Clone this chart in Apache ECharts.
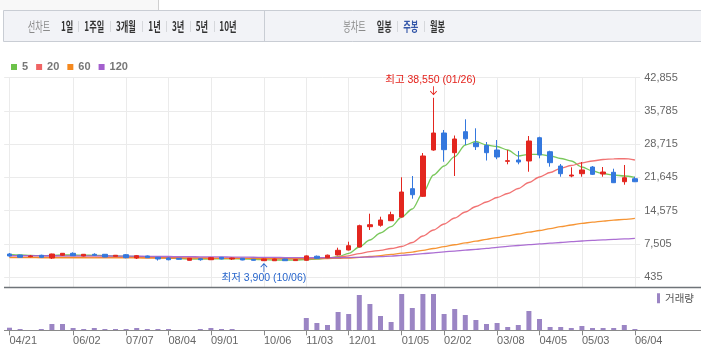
<!DOCTYPE html>
<html><head><meta charset="utf-8">
<script src="https://cdn.jsdelivr.net/npm/echarts@6/dist/echarts.min.js"></script>
<style>html,body{margin:0;padding:0;background:#fff}#c{width:701px;height:364px}</style>
</head><body><div id="c"></div>
<script>
// ---------- data ----------
const categories = ['04/21','04/28','05/05','05/12','05/19','05/26','06/02','06/09','06/16','06/23',
 '06/30','07/07','07/14','07/21','07/28','08/04','08/11','08/18','08/25','09/01',
 '09/08','09/15','09/22','09/29','10/06','10/13','10/20','10/27','11/03','11/10',
 '11/17','11/24','12/01','12/08','12/15','12/22','12/29','01/05','01/12','01/19',
 '01/26','02/02','02/09','02/16','02/23','03/02','03/08','03/15','03/22','03/29',
 '04/05','04/12','04/19','04/26','05/03','05/10','05/17','05/24','05/31','06/04'];
const tickLabels = ['04/21','06/02','07/07','08/04','09/01','10/06','11/03','12/01','01/05','02/02','03/08','04/05','05/03','06/04'];
const openP  = [5380,5170,4810,5110,4530,5110,5530,4960,5320,5320, 4890,5230,4530,4960,4680,4530,4470,4040,4380,4170,
 4680,4320,4470,4260,3960,3950,4320,3980,4050,4910, 4580,5170,6230,6870,11180,11480,12450,13240,19250,17630,
 27460,31070,26890,31350,28950,28420,27460,25060,25340,25130, 30070,27100,24060,21940,22430,23850,22370,22730,20730,21370];
const closeP = [4960,4680,4960,4680,5380,5530,5020,5320,5110,4750, 5110,4600,5020,4600,4320,4170,4260,4470,4170,4600,
 4320,4530,4110,4040,4320,4320,3960,4200,4980,4470, 5130,6170,7140,11390,11600,12600,13730,18540,17970,26190,
 31070,27530,29800,29840,28160,26890,25980,25190,24910,29370, 26400,24770,22430,22150,23220,22300,22790,20520,21580,20730];
const lowP   = [4810,4640,4680,4530,4320,4960,4960,4890,4960,4700, 4850,4470,4320,4550,3990,4040,4200,4000,3960,4100,
 4250,4110,4050,3980,3900,3930,3920,3940,3950,4400, 4500,5060,6150,6800,10480,11180,12400,13100,17120,17500,
 27310,24980,21940,28520,27460,25230,25510,24430,24430,22850, 25700,23920,21790,21670,21790,22150,21790,20450,20090,20650];
const highP  = [5590,5230,5170,5230,5450,5590,5740,5380,5530,5380, 5170,5380,5170,5050,4750,4680,4530,4530,4470,4750,
 4750,4600,4530,4320,4400,4400,4400,4250,5080,5050, 5250,6720,7990,11600,13940,13300,14360,21670,21940,26820,
 38550,31710,30540,33980,32070,29160,29580,27460,27250,30430, 30280,27310,24490,23790,24910,24060,23850,23490,24280,21790];
const volume = [260000,130000,20000,130000,630000,630000,230000,130000,230000,130000,
 130000,130000,230000,130000,130000,130000,30000,30000,130000,230000,
 130000,130000,20000,20000,20000,20000,20000,20000,1230000,730000,
 530000,1830000,1630000,3530000,2630000,1430000,830000,3630000,2230000,3630000,
 3630000,1630000,2130000,1530000,1030000,630000,730000,330000,530000,1930000,
 1130000,330000,330000,230000,430000,230000,230000,230000,530000,130000];
const ma5 = [5280,5170,5060,5020,5060,5170,5170,5130,5110,5040, 4960,4910,4850,4750,4640,4530,4430,4320,4280,4320,
 4360,4360,4320,4260,4170,4110,4110,4110,4210,4320, 4530,4810,5530,6870,8350,9840,11180,13240,14940,18330,
 22150,24060,26040,28520,29270,28520,28200,27460,26190,26550, 26550,26190,25660,25130,23850,23000,22470,22150,21940,21670];
const ma20 = [4700,4710,4710,4700,4700,4710,4720,4710,4700,4690, 4680,4670,4660,4640,4620,4600,4580,4560,4540,4520,
 4500,4490,4470,4450,4430,4410,4400,4390,4400,4440, 4530,4700,5000,5450,5900,6150,6550,6970,7820,9200,
 10480,11750,13020,14300,15470,16420,17380,18230,19290,20560, 21730,22680,23580,24170,24700,25130,25440,25590,25610,25340];
const ma60 = [4600,4600,4600,4590,4590,4590,4580,4580,4570,4570, 4560,4550,4540,4530,4520,4510,4500,4490,4480,4470,
 4460,4450,4440,4430,4420,4410,4400,4400,4400,4410, 4420,4450,4520,4650,4850,5050,5300,5550,5800,6150,
 6550,6950,7350,7750,8100,8500,8850,9250,9630,10010, 10370,10770,11180,11540,11900,12130,12350,12560,12750,12960];
const ma120 = [5050,5040,5030,5020,5010,5000,4990,4980,4970,4960, 4950,4930,4910,4890,4870,4850,4830,4810,4790,4770,
 4750,4730,4710,4690,4670,4650,4630,4610,4590,4580, 4580,4590,4620,4670,4740,4830,4940,5080,5250,5440,
 5640,5830,6010,6190,6370,6580,6800,7000,7190,7360, 7510,7670,7820,7990,8140,8270,8400,8500,8610,8720];
const yTicks = [435, 7505, 14575, 21645, 28715, 35785, 42855];
const maNames = ['5', '20', '60', '120'];
const volumeName = '거래량';
const highPoint = { date: '01/26', value: 38550, text: '최고' };
const lowPoint = { date: '10/06', value: 3900, text: '최저' };
const lineButtons = ['1일', '1주일', '3개월', '1년', '3년', '5년', '10년'];
const candleButtons = ['일봉', '주봉', '월봉'];

// ---------- layout / style ----------
const fmt = v => v.toLocaleString('en-US');
const isTick = (idx, val) => tickLabels.indexOf(val) >= 0;
const candleData = categories.map((c, i) => [openP[i], closeP[i], lowP[i], highP[i]]);
const maColors = ['#6cc24a', '#f06464', '#f5891f', '#a35fce'];
const maSeries = [ma5, ma20, ma60, ma120];
const downArrow = 'path://M4.5 0H5.5V8.3L8.6 5.2L9.3 5.9L5 10.2L0.7 5.9L1.4 5.2L4.5 8.3Z';
const upArrow = 'path://M4.5 10.2H5.5V1.9L8.6 5L9.3 4.3L5 0L0.7 4.3L1.4 5L4.5 1.9Z';

const gLeft = 4.2, gRight = 60.8;
const CJK = '"Noto Sans CJK KR"';

const graphic = [
  { type: 'rect', shape: { x: 0, y: 0, width: 158, height: 10 }, style: { fill: '#f8f8f8' } },
  { type: 'line', shape: { x1: 158.5, y1: 0, x2: 158.5, y2: 10 }, style: { stroke: '#d0d0d0' } },
  { type: 'rect', shape: { x: 3.5, y: 10.5, width: 700, height: 31 }, style: { fill: '#f2f3f7', stroke: '#c9cdd4', lineWidth: 1 } },
  { type: 'line', shape: { x1: 264.5, y1: 11, x2: 264.5, y2: 41 }, style: { stroke: '#c9cdd4' } },
  { type: 'line', shape: { x1: 4, y1: 287.5, x2: 701, y2: 287.5 }, style: { stroke: '#6f7479', lineWidth: 1.5 }, z: 100 },
  { type: 'line', shape: { x1: 4, y1: 330.5, x2: 701, y2: 330.5 }, style: { stroke: '#8a8a8a', lineWidth: 1 }, z: 100 }
];
function addText(txt, x, color, weight) {
  graphic.push({ type: 'text', x: x, y: 26.5, scaleX: 0.63,
    style: { text: txt, fill: color, font: weight + ' 13px ' + CJK, align: 'left', verticalAlign: 'middle' } });
}
function addSep(x) {
  graphic.push({ type: 'line', shape: { x1: x, y1: 21, x2: x, y2: 32 }, style: { stroke: '#d6d8dc' } });
}
addText('선차트', 27.7, '#8a8a8a', 'normal');
const lbX = [61, 84.3, 116, 148.3, 172, 195.7, 219.3];
const lbSep = [78.5, 110.5, 142.5, 166.5, 190.5, 214.5];
lineButtons.forEach((t, i) => addText(t, lbX[i], '#333', 'bold'));
lbSep.forEach(addSep);
addText('봉차트', 343.3, '#8a8a8a', 'normal');
const cbX = [376.7, 403.3, 430];
candleButtons.forEach((t, i) => addText(t, cbX[i], i === 1 ? '#3356a8' : '#333', 'bold'));
[397.5, 424.5].forEach(addSep);

const option = {
  animation: false,
  textStyle: { fontFamily: 'Liberation Sans, ' + CJK + ', sans-serif' },
  graphic: graphic,
  legend: [
    { data: maNames, left: 11, top: 61.5, padding: 0, icon: 'rect', itemWidth: 6, itemHeight: 6, itemGap: 8,
      selectedMode: false, textStyle: { color: '#777', fontSize: 11, fontWeight: 'bold', fontFamily: 'Liberation Sans' } },
    { data: [volumeName], left: 657, top: 293, padding: 0, icon: 'rect', itemWidth: 3, itemHeight: 10,
      selectedMode: false, textStyle: { color: '#555', fontSize: 10.5, fontFamily: CJK } }
  ],
  grid: [
    { left: gLeft, right: gRight, top: 77.5, height: 209.9 },
    { left: gLeft, right: gRight, top: 290.3, height: 40 }
  ],
  xAxis: [
    { type: 'category', gridIndex: 0, data: categories, boundaryGap: true,
      axisLine: { show: false }, axisTick: { show: false }, axisLabel: { show: false },
      splitLine: { show: true, interval: isTick, alignWithLabel: true, lineStyle: { color: '#ebebeb', width: 1 } } },
    { type: 'category', gridIndex: 1, data: categories, boundaryGap: true,
      axisLine: { show: false },
      axisTick: { show: true, interval: isTick, alignWithLabel: true, length: 5, lineStyle: { color: '#888' } },
      axisLabel: { show: true, interval: isTick, align: 'left', margin: 5, fontSize: 11, color: '#666', fontFamily: 'Liberation Sans' },
      splitLine: { show: false } }
  ],
  yAxis: [
    { type: 'value', gridIndex: 0, position: 'right', min: -1710, max: 42855,
      axisLine: { show: false },
      axisTick: { show: false, customValues: yTicks },
      axisLabel: { customValues: yTicks, margin: 4, fontSize: 11, color: '#666', fontFamily: 'Liberation Sans', formatter: v => fmt(v) },
      splitLine: { show: true, lineStyle: { color: '#ebebeb', width: 1 } } },
    { type: 'value', gridIndex: 1, min: 0, max: 4000000, show: false, splitLine: { show: false } }
  ],
  series: [
    { type: 'candlestick', name: 'price', xAxisIndex: 0, yAxisIndex: 0, data: candleData, barWidth: 5, z: 3,
      itemStyle: { color: '#e3261f', color0: '#3478de', borderColor: '#e3261f', borderColor0: '#3478de', borderWidth: 1 },
      markPoint: { silent: true, animation: false, data: [
        { coord: [highPoint.date, highPoint.value], symbol: downArrow, symbolSize: [7, 9], symbolOffset: [0, -7],
          itemStyle: { color: '#e4211b' },
          label: { show: true, position: 'top', distance: 1, offset: [-3, 0], color: '#e4211b', fontSize: 10.5,
            fontFamily: 'Liberation Sans, ' + CJK,
            formatter: highPoint.text + ' ' + fmt(highPoint.value) + ' (' + highPoint.date + ')' } },
        { coord: [lowPoint.date, lowPoint.value], symbol: upArrow, symbolSize: [7, 9], symbolOffset: [0, 6.5],
          itemStyle: { color: '#2866cc' },
          label: { show: true, position: 'bottom', distance: 1, color: '#2866cc', fontSize: 10.5,
            fontFamily: 'Liberation Sans, ' + CJK,
            formatter: lowPoint.text + ' ' + fmt(lowPoint.value) + ' (' + lowPoint.date + ')' } }
      ] } }
  ].concat(maNames.map((n, k) => ({
    type: 'line', name: n, xAxisIndex: 0, yAxisIndex: 0, data: maSeries[k], z: 2,
    showSymbol: false, symbol: 'none', smooth: 0.3, smoothMonotone: 'x',
    itemStyle: { color: maColors[k] }, lineStyle: { color: maColors[k], width: 1.3, opacity: 0.9 }
  }))).concat([
    { type: 'bar', name: volumeName, xAxisIndex: 1, yAxisIndex: 1, data: volume, barWidth: 5,
      itemStyle: { color: '#9b85c4' } }
  ])
};
const chart = echarts.init(document.getElementById('c'), null, { renderer: 'canvas' });
chart.setOption(option);
</script></body></html>
